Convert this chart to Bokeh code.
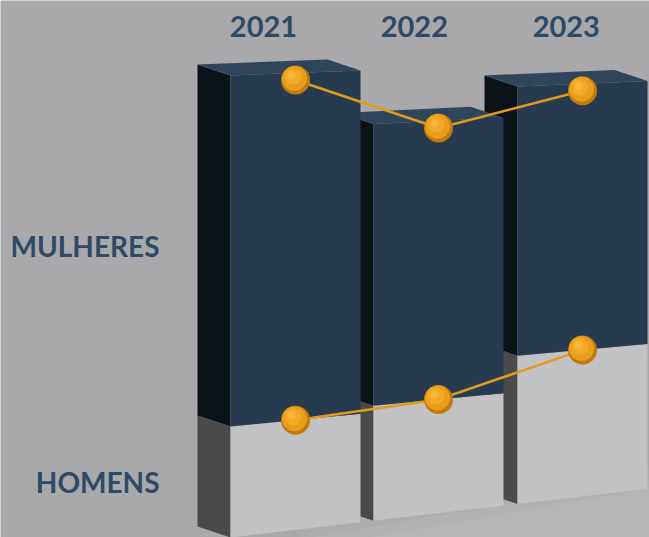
from bokeh.plotting import figure
from bokeh.models import Range1d
from bokeh.core.properties import value
from bokeh.embed import file_html
from bokeh.resources import INLINE

# ---------------- data ----------------
years = ["2021", "2022", "2023"]
homens = [24.0, 25.5, 33.7]
mulheres = [76.0, 62.5, 61.3]
series_labels = ["MULHERES", "HOMENS"]

# ---------------- layout / style ----------------
W, H = 649, 537
BG = "#a9a9ab"
NAVY_FRONT, NAVY_TOP, NAVY_SIDE = "#263b50", "#2e455b", "#0b1218"
GRAY_FRONT, GRAY_SIDE = "#c2c2c4", "#4a4a4b"
TEXT = "#2e4a67"
ORANGE = "#e29a1c"

bar_left = [230, 373, 517]
bar_w = 130
depth = (-33, -11)


def floor_y(x):
    # perspective floor line (screen px, y downward)
    return 537 - 0.117 * (x - 230)


def kscale(x):
    # px per value unit, shrinking with perspective
    return 4.62 * (1 - 0.00017 * (x - 230))


def proj(x, v):
    return x, floor_y(x) - v * kscale(x)


p = figure(width=W, height=H, x_range=Range1d(0, W), y_range=Range1d(H, 0),
           x_axis_type=None, y_axis_type=None, toolbar_location=None,
           output_backend="svg", min_border=0)
p.background_fill_color = BG
p.border_fill_color = BG
p.outline_line_color = None
p.grid.visible = False

# subtle lighter floor under the bars
for off, a in ((-20, 0.25), (-10, 0.3), (0, 0.35)):
    fx = [300, 649, 649, 300]
    fy = [floor_y(300) + off + 20, floor_y(649) + off, H, H]
    p.patch(fx, fy, fill_color="#bcbcbe", line_color=None, alpha=a)

# draw bars from right to left (left bars in front)
for i in reversed(range(3)):
    x0 = bar_left[i]
    x1 = x0 + bar_w
    h = homens[i]
    t = homens[i] + mulheres[i]
    dx, dy = depth
    bl = proj(x0, 0); br = proj(x1, 0)
    ml = proj(x0, h); mr = proj(x1, h)
    tl = proj(x0, t); tr = proj(x1, t)
    # side faces (left)
    p.patch([bl[0], ml[0], ml[0] + dx, bl[0] + dx],
            [bl[1], ml[1], ml[1] + dy, bl[1] + dy],
            fill_color=GRAY_SIDE, line_color=None)
    p.patch([ml[0], tl[0], tl[0] + dx, ml[0] + dx],
            [ml[1], tl[1], tl[1] + dy, ml[1] + dy],
            fill_color=NAVY_SIDE, line_color=None)
    # top face
    p.patch([tl[0], tr[0], tr[0] + dx, tl[0] + dx],
            [tl[1], tr[1], tr[1] + dy, tl[1] + dy],
            fill_color=NAVY_TOP, line_color=None)
    # front faces
    p.patch([bl[0], br[0], mr[0], ml[0]], [bl[1], br[1], mr[1], ml[1]],
            fill_color=GRAY_FRONT, line_color=None)
    p.patch([ml[0], mr[0], tr[0], tl[0]], [ml[1], mr[1], tr[1], tl[1]],
            fill_color=NAVY_FRONT, line_color=None)

# orange lines with spheres
top_inset = 7
totals = [a + b for a, b in zip(homens, mulheres)]
for vals, inset in ((homens, 0), (totals, top_inset)):
    xs, ys = [], []
    for i in range(3):
        cx = bar_left[i] + bar_w / 2
        x, y = proj(cx, vals[i])
        xs.append(x)
        ys.append(y + inset)
    p.line(xs, ys, line_color=ORANGE, line_width=2.5)
    p.scatter(xs, ys, size=29, fill_color="#c27a0c", line_color=None)
    p.scatter([x - 1 for x in xs], [y - 1.5 for y in ys], size=25,
              fill_color="#e99d1d", line_color=None)
    p.scatter([x - 2.5 for x in xs], [y - 3.5 for y in ys], size=17,
              fill_color="#f2a925", line_color=None)
    p.scatter([x - 4 for x in xs], [y - 5 for y in ys], size=8,
              fill_color="#f7b63a", line_color=None)

# year labels (shifted toward the perspective depth)
yx = []
for i in range(3):
    cx = bar_left[i] + bar_w / 2
    yx.append(cx - 32 + 0.055 * (cx - (bar_left[0] + bar_w / 2)))
p.text(yx, [26] * 3, text=years, text_font=value("Lato"), text_font_style="bold",
       text_font_size="29px", text_color=TEXT, text_align="center",
       text_baseline="middle")

# series labels at the middle of each segment of the first bar
mid_m = proj(bar_left[0], homens[0] + mulheres[0] / 2)[1]
mid_h = proj(bar_left[0], homens[0] / 2)[1]
p.text([159, 159], [mid_m - 5, mid_h], text=series_labels, text_font=value("Lato"),
       text_font_style="bold", text_font_size="28px", text_color=TEXT,
       text_align="right", text_baseline="middle")

open("out.html", "w").write(file_html(p, INLINE))
